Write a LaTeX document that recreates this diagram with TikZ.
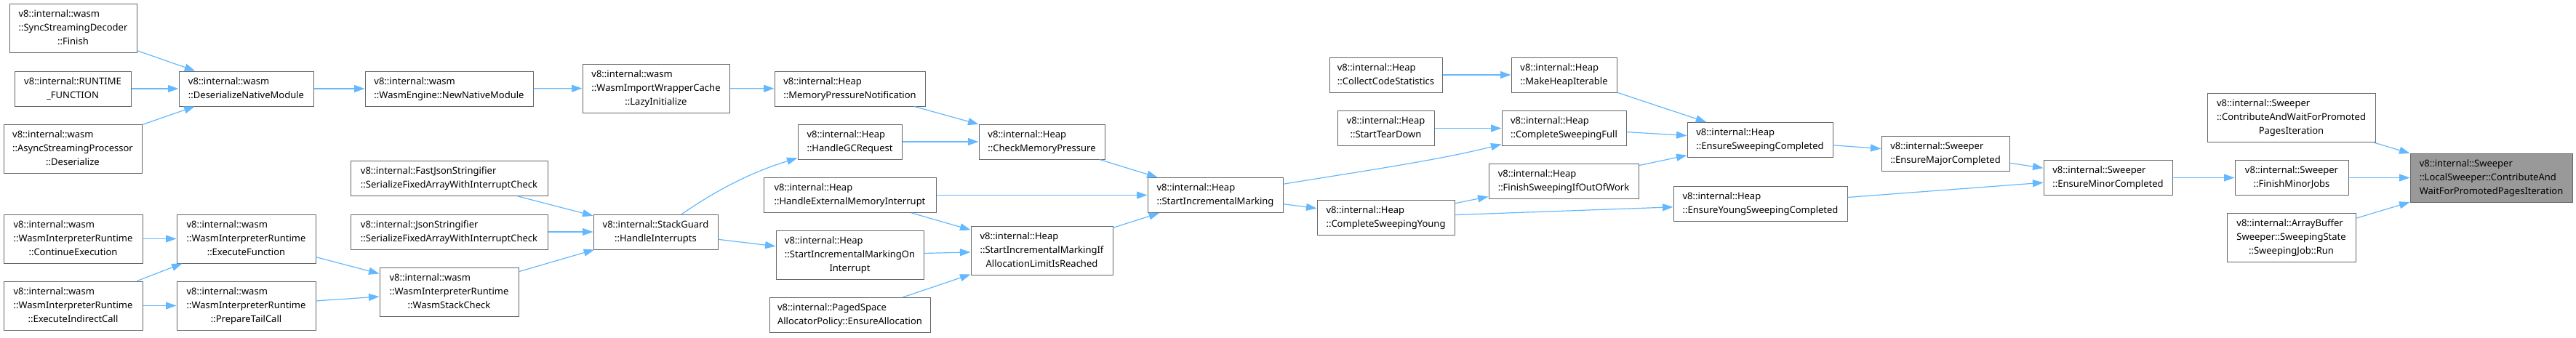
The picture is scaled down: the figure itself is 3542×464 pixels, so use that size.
\documentclass[tikz,border=0pt]{standalone}
\usepackage{fontspec}
\setmainfont{Noto Sans}
\usetikzlibrary{arrows.meta}
\definecolor{edgeblue}{HTML}{63B8FF}
\definecolor{boxborder}{HTML}{666666}
\definecolor{targetfill}{HTML}{999999}
\newcommand\dxl[2]{\begin{tabular}{@{}l@{}}#1\\\multicolumn{1}{@{}c@{}}{#2}\end{tabular}}
\tikzset{
  nodebox/.style={draw=boxborder, fill=white, line width=1pt, rectangle, inner sep=0pt, align=left},
  two/.style={minimum height=48pt},
  three/.style={minimum height=67pt},
  targetbox/.style={nodebox, fill=targetfill},
  edge/.style={draw=edgeblue, line width=1.2pt, -{Triangle[length=14.5pt,width=10pt]}}
}
\begin{document}
\begin{tikzpicture}[x=1pt,y=-1pt,font=\fontsize{13}{19}\selectfont]
\useasboundingbox (0,0) rectangle (3542,464);
% column 13
\node[nodebox,three,minimum width=175pt] (finish) at (100.5,39) {\dxl{v8::internal::wasm\\::SyncStreamingDecoder}{::Finish}};
\node[nodebox,two,minimum width=160pt] (runtime) at (100,122) {\dxl{v8::internal::RUNTIME}{\_FUNCTION}};
\node[nodebox,three,minimum width=190pt] (asyncdes) at (100,204.5) {\dxl{v8::internal::wasm\\::AsyncStreamingProcessor}{::Deserialize}};
\node[nodebox,three,minimum width=191pt] (contexec) at (100.5,328.5) {\dxl{v8::internal::wasm\\::WasmInterpreterRuntime}{::ContinueExecution}};
\node[nodebox,three,minimum width=191pt] (execind) at (100.5,420.5) {\dxl{v8::internal::wasm\\::WasmInterpreterRuntime}{::ExecuteIndirectCall}};
% column 12
\node[nodebox,two,minimum width=185pt] (desnm) at (338.5,122) {\dxl{v8::internal::wasm}{::DeserializeNativeModule}};
\node[nodebox,three,minimum width=191pt] (execfn) at (338.5,328.5) {\dxl{v8::internal::wasm\\::WasmInterpreterRuntime}{::ExecuteFunction}};
\node[nodebox,three,minimum width=191pt] (preptail) at (338.5,420.5) {\dxl{v8::internal::wasm\\::WasmInterpreterRuntime}{::PrepareTailCall}};
% column 11
\node[nodebox,two,minimum width=231pt] (newnm) at (617.5,122) {\dxl{v8::internal::wasm}{::WasmEngine::NewNativeModule}};
\node[nodebox,two,minimum width=271pt] (fastjson) at (617.5,245.5) {\dxl{v8::internal::FastJsonStringifier}{::SerializeFixedArrayWithInterruptCheck}};
\node[nodebox,two,minimum width=271pt] (json) at (617.5,319) {\dxl{v8::internal::JsonStringifier}{::SerializeFixedArrayWithInterruptCheck}};
\node[nodebox,three,minimum width=191pt] (stackcheck) at (617.5,401.5) {\dxl{v8::internal::wasm\\::WasmInterpreterRuntime}{::WasmStackCheck}};
% column 10
\node[nodebox,three,minimum width=202pt] (lazyinit) at (902,121.5) {\dxl{v8::internal::wasm\\::WasmImportWrapperCache}{::LazyInitialize}};
\node[nodebox,two,minimum width=171pt] (handleint) at (901.5,319) {\dxl{v8::internal::StackGuard}{::HandleInterrupts}};
% column 9
\node[nodebox,two,minimum width=207pt] (mempress) at (1168.5,122) {\dxl{v8::internal::Heap}{::MemoryPressureNotification}};
\node[nodebox,two,minimum width=143pt] (handlegc) at (1168.5,195) {\dxl{v8::internal::Heap}{::HandleGCRequest}};
\node[nodebox,two,minimum width=237pt] (handleext) at (1168.5,268.5) {\dxl{v8::internal::Heap}{::HandleExternalMemoryInterrupt}};
\node[nodebox,three,minimum width=203pt] (startimoi) at (1168.5,351) {\dxl{v8::internal::Heap\\::StartIncrementalMarkingOn}{Interrupt}};
\node[nodebox,two,minimum width=221pt] (ensalloc) at (1168.5,433.5) {\dxl{v8::internal::PagedSpace}{AllocatorPolicy::EnsureAllocation}};
% column 8
\node[nodebox,two,minimum width=173pt] (checkmem) at (1432.5,195) {\dxl{v8::internal::Heap}{::CheckMemoryPressure}};
\node[nodebox,three,minimum width=195pt] (startimif) at (1432.5,344.5) {\dxl{v8::internal::Heap\\::StartIncrementalMarkingIf}{AllocationLimitIsReached}};
% column 7
\node[nodebox,two,minimum width=186pt] (startim) at (1671,268.5) {\dxl{v8::internal::Heap}{::StartIncrementalMarking}};
% column 6
\node[nodebox,two,minimum width=155pt] (collect) at (1905.5,103) {\dxl{v8::internal::Heap}{::CollectCodeStatistics}};
\node[nodebox,two,minimum width=133pt] (teardown) at (1905.5,176.5) {\dxl{v8::internal::Heap}{::StartTearDown}};
\node[nodebox,two,minimum width=189pt] (cswyoung) at (1905.5,299) {\dxl{v8::internal::Heap}{::CompleteSweepingYoung}};
% column 5
\node[nodebox,two,minimum width=145pt] (makeheap) at (2150.5,103) {\dxl{v8::internal::Heap}{::MakeHeapIterable}};
\node[nodebox,two,minimum width=171pt] (cswfull) at (2150.5,176.5) {\dxl{v8::internal::Heap}{::CompleteSweepingFull}};
\node[nodebox,two,minimum width=206pt] (finishsw) at (2150,249.5) {\dxl{v8::internal::Heap}{::FinishSweepingIfOutOfWork}};
% column 4
\node[nodebox,two,minimum width=200pt] (ensuresw) at (2420,192.5) {\dxl{v8::internal::Heap}{::EnsureSweepingCompleted}};
\node[nodebox,two,minimum width=239pt] (ensureyoung) at (2420.5,280.5) {\dxl{v8::internal::Heap}{::EnsureYoungSweepingCompleted}};
% column 3
\node[nodebox,two,minimum width=176pt] (ensmajor) at (2675,211) {\dxl{v8::internal::Sweeper}{::EnsureMajorCompleted}};
% column 2
\node[nodebox,two,minimum width=177pt] (ensminor) at (2898.5,244.5) {\dxl{v8::internal::Sweeper}{::EnsureMinorCompleted}};
% column 1
\node[nodebox,three,minimum width=231pt] (contrib) at (3150.5,162) {\dxl{v8::internal::Sweeper\\::ContributeAndWaitForPromoted}{PagesIteration}};
\node[nodebox,two,minimum width=156pt] (finishminor) at (3151,244.5) {\dxl{v8::internal::Sweeper}{::FinishMinorJobs}};
\node[nodebox,three,minimum width=177pt] (sweepjob) at (3150.5,327) {\dxl{v8::internal::ArrayBuffer\\Sweeper::SweepingState}{::SweepingJob::Run}};
% target
\node[targetbox,three,minimum width=223pt] (target) at (3425.5,244.5) {\dxl{v8::internal::Sweeper\\::LocalSweeper::ContributeAnd}{WaitForPromotedPagesIteration}};
% edges
\draw[edge] (finish) -- (desnm);
\draw[edge] (runtime) -- (desnm);
\draw[edge] (asyncdes) -- (desnm);
\draw[edge] (desnm) -- (newnm);
\draw[edge] (newnm) -- (lazyinit);
\draw[edge] (lazyinit) -- (mempress);
\draw[edge] (contexec) -- (execfn);
\draw[edge] (execind) -- (execfn);
\draw[edge] (execind) -- (preptail);
\draw[edge] (execfn) -- (stackcheck);
\draw[edge] (preptail) -- (stackcheck);
\draw[edge] (fastjson) -- (handleint);
\draw[edge] (json) -- (handleint);
\draw[edge] (stackcheck) -- (handleint);
\draw[edge] (handleint) .. controls (985,262) and (1030,238) .. (handlegc);
\draw[edge] (handleint) -- (startimoi);
\draw[edge] (mempress) -- (checkmem);
\draw[edge] (handlegc) -- (checkmem);
\draw[edge] (checkmem) -- (startim);
\draw[edge] (handleext) -- (startim);
\draw[edge] (handleext) -- (startimif);
\draw[edge] (startimoi) -- (startimif);
\draw[edge] (ensalloc) -- (startimif);
\draw[edge] (startimif) -- (startim);
\draw[edge] (startim) .. controls (1870,236) and (1980,220) .. (cswfull);
\draw[edge] (startim) -- (cswyoung);
\draw[edge] (collect) -- (makeheap);
\draw[edge] (teardown) -- (cswfull);
\draw[edge] (cswyoung) -- (finishsw);
\draw[edge] (cswyoung) -- (ensureyoung);
\draw[edge] (makeheap) -- (ensuresw);
\draw[edge] (cswfull) -- (ensuresw);
\draw[edge] (finishsw) -- (ensuresw);
\draw[edge] (ensuresw) -- (ensmajor);
\draw[edge] (ensmajor) -- (ensminor);
\draw[edge] (ensureyoung) -- (ensminor);
\draw[edge] (ensminor) -- (finishminor);
\draw[edge] (contrib) -- (target);
\draw[edge] (finishminor) -- (target);
\draw[edge] (sweepjob) -- (target);
\end{tikzpicture}
\end{document}
